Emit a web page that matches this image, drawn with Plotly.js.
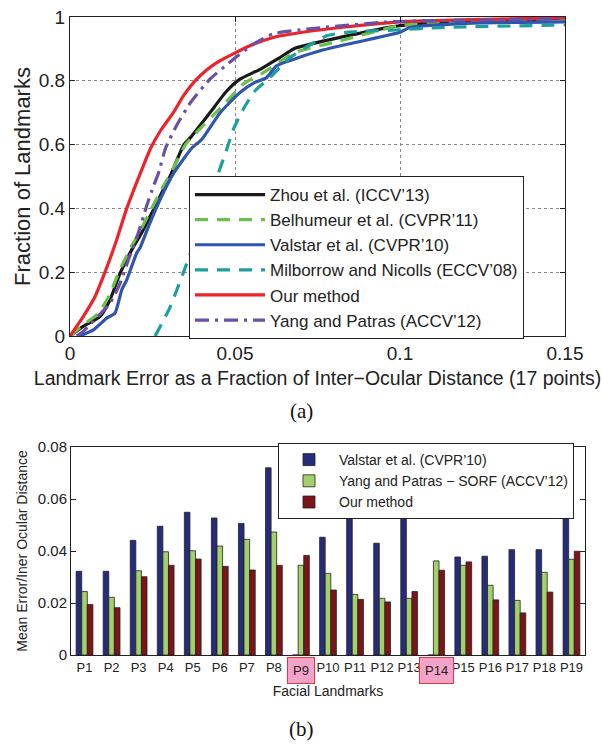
<!DOCTYPE html>
<html>
<head>
<meta charset="utf-8">
<script src="https://cdn.plot.ly/plotly-3.0.1.min.js"></script>
<style>html,body{margin:0;padding:0;background:#fff;}#chart{width:602px;height:744px;}</style>
</head>
<body>
<div id="chart"></div>
<script>
// ---- Panel (a): cumulative error curves ----
const zhouX = [0, 0.004, 0.0091, 0.0121, 0.0152, 0.0187, 0.0217, 0.0248, 0.0283, 0.0303, 0.0345, 0.0364, 0.0424, 0.0475, 0.0515, 0.0576, 0.0636, 0.0682, 0.0818, 0.1, 0.122, 0.15];
const zhouY = [0, 0.03, 0.061, 0.113, 0.197, 0.27, 0.323, 0.386, 0.459, 0.50, 0.6, 0.621, 0.70, 0.768, 0.805, 0.836, 0.873, 0.902, 0.936, 0.973, 0.988, 0.995];
const belhX = [0, 0.004, 0.0085, 0.0118, 0.0148, 0.0183, 0.0213, 0.0245, 0.028, 0.0303, 0.035, 0.0373, 0.047, 0.0525, 0.0586, 0.0682, 0.0818, 0.1, 0.122, 0.15];
const belhY = [0, 0.035, 0.07, 0.125, 0.2, 0.275, 0.33, 0.395, 0.465, 0.505, 0.6, 0.627, 0.73, 0.79, 0.826, 0.889, 0.925, 0.973, 0.99, 0.995];
const valsX = [0.003, 0.0071, 0.0111, 0.0136, 0.0157, 0.0172, 0.0202, 0.0212, 0.0242, 0.0273, 0.0315, 0.037, 0.0399, 0.0455, 0.0515, 0.056, 0.0596, 0.0626, 0.0758, 0.0864, 0.1, 0.103, 0.122, 0.15];
const valsY = [0, 0.019, 0.056, 0.071, 0.145, 0.176, 0.26, 0.276, 0.354, 0.428, 0.512, 0.59, 0.616, 0.70, 0.763, 0.795, 0.81, 0.847, 0.894, 0.92, 0.952, 0.967, 0.981, 0.985];
const milbX = [0.0258, 0.0303, 0.0354, 0.0394, 0.0439, 0.0475, 0.0495, 0.0525, 0.056, 0.0601, 0.0667, 0.0778, 0.0838, 0.1, 0.112, 0.15];
const milbY = [0, 0.09, 0.228, 0.344, 0.48, 0.585, 0.648, 0.711, 0.768, 0.805, 0.873, 0.941, 0.952, 0.96, 0.967, 0.975];
const oursX = [0, 0.004, 0.0076, 0.0106, 0.0141, 0.0172, 0.0217, 0.0245, 0.0275, 0.0313, 0.0345, 0.0379, 0.0415, 0.0455, 0.0545, 0.0616, 0.0667, 0.0818, 0.1, 0.122, 0.15];
const oursY = [0, 0.061, 0.124, 0.2, 0.30, 0.4, 0.52, 0.59, 0.645, 0.70, 0.755, 0.8, 0.835, 0.863, 0.91, 0.936, 0.946, 0.967, 0.985, 0.992, 0.997];
const yangX = [0.002, 0.0035, 0.0121, 0.0152, 0.0177, 0.0207, 0.0232, 0.0253, 0.0268, 0.029, 0.0323, 0.0364, 0.0424, 0.049, 0.0556, 0.0616, 0.0717, 0.097, 0.122, 0.15];
const yangY = [0, 0.01, 0.103, 0.166, 0.239, 0.323, 0.407, 0.47, 0.51, 0.59, 0.66, 0.73, 0.805, 0.863, 0.915, 0.947, 0.962, 0.985, 0.99, 0.995];

const curveNames = ["Zhou et al. (ICCV’13)", "Belhumeur et al. (CVPR’11)", "Valstar et al. (CVPR’10)", "Milborrow and Nicolls (ECCV’08)", "Our method", "Yang and Patras (ACCV’12)"];
const xTickValsA = [0, 0.05, 0.1, 0.15];
const xTickTextA = ["0", "0.05", "0.1", "0.15"];
const yTickValsA = [0, 0.2, 0.4, 0.6, 0.8, 1];
const yTickTextA = ["0", "0.2", "0.4", "0.6", "0.8", "1"];

// ---- Panel (b): per-landmark mean error ----
const landmarks = ["P1","P2","P3","P4","P5","P6","P7","P8","P9","P10","P11","P12","P13","P14","P15","P16","P17","P18","P19"];
const highlighted = ["P9", "P14"];
const valstarErr = [0.0322, 0.0322, 0.0441, 0.0495, 0.0549, 0.0527, 0.0506, 0.0720, 0, 0.0453, 0.0549, 0.0430, 0.0537, 0, 0.0377, 0.0380, 0.0405, 0.0405, 0.0531];
const yangErr    = [0.0244, 0.0222, 0.0324, 0.0397, 0.0401, 0.0419, 0.0445, 0.0473, 0.0345, 0.0314, 0.0233, 0.0218, 0.0218, 0.0362, 0.0345, 0.0268, 0.0210, 0.0318, 0.0368];
const oursErr    = [0.0194, 0.0182, 0.0301, 0.0345, 0.0369, 0.0341, 0.0327, 0.0345, 0.0383, 0.0250, 0.0214, 0.0204, 0.0244, 0.0326, 0.0358, 0.0212, 0.0162, 0.0242, 0.0399];
const barNames = ["Valstar et al. (CVPR’10)", "Yang and Patras − SORF (ACCV’12)", "Our method"];
const yTickValsB = [0, 0.02, 0.04, 0.06, 0.08];
const yTickTextB = ["0", "0.02", "0.04", "0.06", "0.08"];

const FONT = "Liberation Sans, Arial, sans-serif";
const idx = landmarks.map((_, i) => i + 1);

const curves = [
  {x: zhouX, y: zhouY, color: "#1a1a1a", dash: "solid"},
  {x: belhX, y: belhY, color: "#6cc04a", dash: "13px,9px"},
  {x: valsX, y: valsY, color: "#2f55b0", dash: "solid"},
  {x: milbX, y: milbY, color: "#1e9e9c", dash: "13px,9px"},
  {x: oursX, y: oursY, color: "#ee2229", dash: "solid"},
  {x: yangX, y: yangY, color: "#6a4fa6", dash: "14px,6px,3px,6px"}
];
const traces = curves.map((c, i) => ({
  type: "scatter", mode: "lines", x: c.x, y: c.y, name: curveNames[i],
  line: {color: c.color, width: 3.2, dash: c.dash, shape: "spline", smoothing: 0.5},
  xaxis: "x", yaxis: "y", legend: "legend"
}));

const barColors = ["#262c7c", "#a4d06a", "#7d1419"];
[valstarErr, yangErr, oursErr].forEach((v, i) => {
  traces.push({
    type: "bar", x: idx, y: v, name: barNames[i],
    marker: {color: barColors[i], line: {color: "#222", width: 0.8}},
    xaxis: "x2", yaxis: "y2", legend: "legend2"
  });
});

const annotations = [
  {text: "(a)", x: 0.5, y: 1 - 411/744, xref: "paper", yref: "paper", yanchor: "middle", showarrow: false,
   font: {family: "Liberation Serif, Times New Roman, serif", size: 21, color: "#111"}},
  {text: "(b)", x: 0.5, y: 1 - 729/744, xref: "paper", yref: "paper", yanchor: "middle", showarrow: false,
   font: {family: "Liberation Serif, Times New Roman, serif", size: 21, color: "#111"}}
];
highlighted.forEach(h => {
  annotations.push({
    text: h, x: landmarks.indexOf(h) + 1, y: 1 - 670/744, xref: "x2", yref: "paper",
    yanchor: "middle", showarrow: false, font: {family: FONT, size: 13, color: "#222"},
    bgcolor: "#f4a3c8", bordercolor: "#e8343f", borderwidth: 1, borderpad: 5
  });
});

const layout = {
  width: 602, height: 744,
  margin: {l: 0, r: 0, t: 0, b: 0},
  paper_bgcolor: "#fff", plot_bgcolor: "#fff",
  font: {family: FONT, color: "#222"},
  showlegend: true,
  barmode: "group", bargap: 0.38, bargroupgap: 0,
  xaxis: {
    domain: [70/602, 565/602], anchor: "y", range: [0, 0.15],
    tickvals: xTickValsA, ticktext: xTickTextA, tickfont: {size: 19},
    ticks: "inside", ticklen: 5, tickcolor: "#222", mirror: "ticks",
    showline: true, linecolor: "#222", linewidth: 1,
    showgrid: true, gridcolor: "#888", griddash: "dot", gridwidth: 1, zeroline: false,
    title: {text: "Landmark Error as a Fraction of Inter−Ocular Distance (17 points)", font: {size: 19.5}, standoff: 8}
  },
  yaxis: {
    domain: [1 - 336/744, 1 - 17/744], anchor: "x", range: [0, 1],
    tickvals: yTickValsA, ticktext: yTickTextA, tickfont: {size: 19},
    ticks: "inside", ticklen: 5, tickcolor: "#222", mirror: "ticks",
    showline: true, linecolor: "#222", linewidth: 1,
    showgrid: true, gridcolor: "#888", griddash: "dot", gridwidth: 1, zeroline: false,
    title: {text: "Fraction of Landmarks", font: {size: 22}, standoff: 2}
  },
  xaxis2: {
    domain: [71/602, 585/602], anchor: "y2", range: [0.5, 19.5],
    tickvals: idx, ticktext: landmarks.map(l => highlighted.includes(l) ? "" : l), tickfont: {size: 13},
    ticks: "", mirror: true, showline: true, linecolor: "#222", linewidth: 1,
    showgrid: false, zeroline: false,
    title: {text: "Facial Landmarks", font: {size: 14}, standoff: 12}
  },
  yaxis2: {
    domain: [1 - 655/744, 1 - 447/744], anchor: "x2", range: [0, 0.08],
    tickvals: yTickValsB, ticktext: yTickTextB, tickfont: {size: 15},
    ticks: "inside", ticklen: 5, tickcolor: "#222", mirror: "ticks",
    showline: true, linecolor: "#222", linewidth: 1,
    showgrid: false, zeroline: false,
    title: {text: "Mean Error/Iner Ocular Distance", font: {size: 14}, standoff: 6}
  },
  legend: {
    x: 189/602, y: 1 - 176/744, xanchor: "left", yanchor: "top",
    bgcolor: "#fff", bordercolor: "#222", borderwidth: 1,
    font: {size: 17, family: FONT, color: "#222"}, itemwidth: 70, tracegroupgap: 0
  },
  legend2: {
    x: 278/602, y: 1 - 443/744, xanchor: "left", yanchor: "top",
    bgcolor: "#fff", bordercolor: "#222", borderwidth: 1,
    font: {size: 14, family: FONT, color: "#222"}, itemwidth: 50, tracegroupgap: 0
  },
  annotations: annotations
};

Plotly.newPlot("chart", traces, layout, {staticPlot: true, displayModeBar: false});
</script>
</body>
</html>
